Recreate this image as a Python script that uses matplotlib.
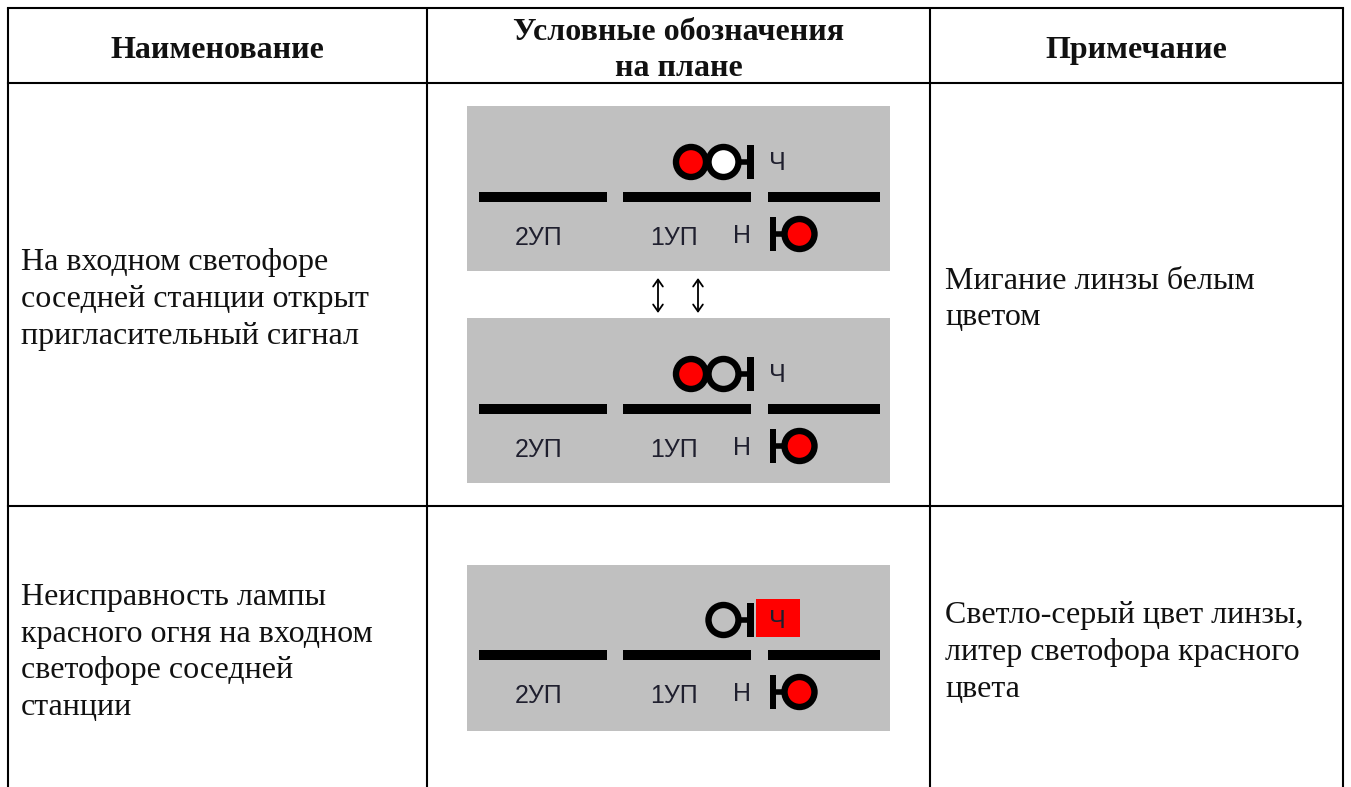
"""
Legend table: railway station plan symbols, drawn in pixel coordinates.
"""

import matplotlib
matplotlib.use('Agg')
import matplotlib.pyplot as plt
import matplotlib.patches as patches

plt.rcParams['font.family'] = ['Liberation Serif', 'DejaVu Serif']

WIDTH, HEIGHT = 1351, 787

headers = ['Наименование', 'Условные обозначения\nна плане', 'Примечание']
names = ['На входном светофоре\nсоседней станции открыт\nпригласительный сигнал',
         'Неисправность лампы\nкрасного огня на входном\nсветофоре соседней\nстанции']
notes = ['Мигание линзы белым\nцветом',
         'Светло-серый цвет линзы,\nлитер светофора красного\nцвета']
track_labels = ['2УП', '1УП', 'Н']
upper_litera = 'Ч'

GREY = '#c0c0c0'
RED = '#ff0000'
LABEL = '#1f1f2e'
INK = '#111111'


def lens(ax, x, y, color):
    ax.add_patch(patches.Circle((x, y), 15, facecolor=color, edgecolor='black', linewidth=4.6, zorder=4))


def mast(ax, x, y):
    ax.add_patch(patches.Rectangle((x - 3.2, y - 17), 6.4, 34, facecolor='black', edgecolor='none', zorder=3))


def draw_panel(ax, top, bottom, track_y, lenses, litera_box=False):
    ax.add_patch(patches.Rectangle((467, top), 423, bottom - top, facecolor=GREY, edgecolor='none', zorder=1))

    for x0, x1 in [(479, 607), (623, 751), (768, 880)]:
        ax.add_patch(patches.Rectangle((x0, track_y - 5), x1 - x0, 10, facecolor='black', edgecolor='none', zorder=2))

    # upper signal, lenses go left from the mast
    sig_y = track_y - 35
    mast(ax, 750.5, sig_y)
    ax.plot([723, 750], [sig_y, sig_y], color='black', lw=4, zorder=3, solid_capstyle='butt')
    for x, color in lenses:
        lens(ax, x, sig_y, color)
    if litera_box:
        ax.add_patch(patches.Rectangle((756, sig_y - 21), 44, 38, facecolor=RED, edgecolor='none', zorder=2))
    ax.text(777, sig_y + 1, upper_litera, family='Liberation Sans', fontsize=18, color=LABEL,
            ha='center', va='center', zorder=5)

    # lower signal
    low_y = track_y + 37
    mast(ax, 773, low_y)
    ax.plot([773, 799], [low_y, low_y], color='black', lw=4, zorder=3, solid_capstyle='butt')
    lens(ax, 799.5, low_y, RED)

    label_y = track_y + 41
    for x, label in zip([538.5, 674, 742], track_labels):
        y = label_y - 2 if label == 'Н' else label_y
        ax.text(x, y, label, family='Liberation Sans', fontsize=18, color=LABEL,
                ha='center', va='center', zorder=5)


def main():
    fig = plt.figure(figsize=(WIDTH / 100, HEIGHT / 100), dpi=100)
    ax = fig.add_axes([0, 0, 1, 1])
    ax.set_xlim(0, WIDTH)
    ax.set_ylim(HEIGHT, 0)
    ax.axis('off')

    # table grid
    for x in [8, 427, 930, 1343]:
        ax.plot([x, x], [8, HEIGHT], color='black', lw=1.5, solid_capstyle='butt')
    for y in [8, 83, 506]:
        ax.plot([8, 1343], [y, y], color='black', lw=1.5, solid_capstyle='projecting')

    # header
    for x, header in zip([217, 679, 1136], headers):
        ax.text(x, 50.5, header, fontsize=23, fontweight='bold', ha='center', va='center',
                linespacing=1.35, color=INK)

    # body text
    for y, name, note in zip([299.5, 652.5], names, notes):
        ax.text(21, y, name, fontsize=23, ha='left', va='center', linespacing=1.35, color=INK)
        ax.text(945, y, note, fontsize=23, ha='left', va='center', linespacing=1.35, color=INK)

    # symbols
    draw_panel(ax, 106, 271, 197, [(691, RED), (723.5, 'white')])
    draw_panel(ax, 318, 483, 409, [(691, RED), (723.5, GREY)])
    draw_panel(ax, 565, 731, 655, [(723.5, GREY)], litera_box=True)

    # blinking arrows between the two states
    for x in [658, 698]:
        ax.annotate('', xy=(x, 278), xytext=(x, 313),
                    arrowprops=dict(arrowstyle='<->,head_width=0.35,head_length=0.5', color='black', lw=1.3,
                                    shrinkA=0, shrinkB=0))

    fig.savefig('out.png', dpi=100)
    plt.close(fig)


if __name__ == "__main__":
    main()
